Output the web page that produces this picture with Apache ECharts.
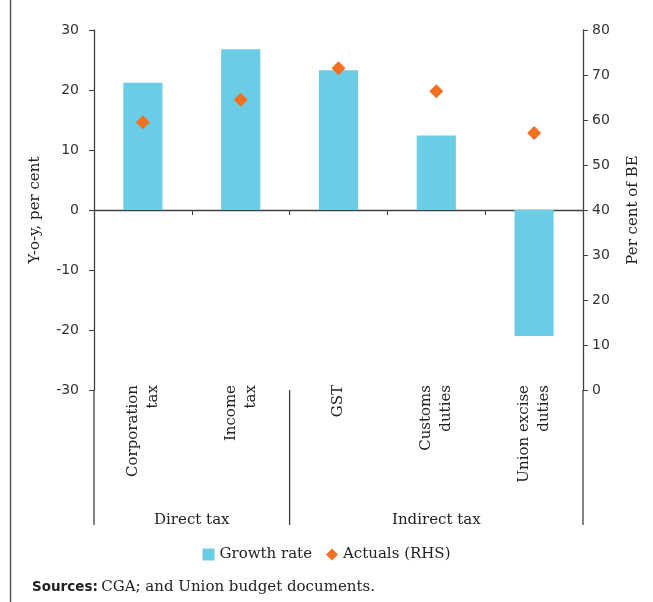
<!DOCTYPE html>
<html>
<head>
<meta charset="utf-8">
<script src="https://cdn.jsdelivr.net/npm/echarts@6/dist/echarts.min.js"></script>
<style>
  html, body { margin: 0; padding: 0; background: #fff; overflow: hidden; }
  #chart { width: 653px; height: 602px; }
</style>
</head>
<body>
<div id="chart"></div>
<script>
// data
const categories = ['Corporation\ntax', 'Income\ntax', 'GST', 'Customs\nduties', 'Union excise\nduties'];
const growthRate = [21.2, 26.8, 23.3, 12.4, -21.0];
const actualsRHS = [59.5, 64.5, 71.5, 66.4, 57.1];
const groups = ['Direct tax', 'Indirect tax'];
const groupSpans = [[0, 1], [2, 4]];   // category index ranges

const serif = '"DejaVu Serif", "Liberation Serif", serif';
const sans = '"DejaVu Sans", Verdana, sans-serif';
const axisColor = '#404040';

let chart = echarts.init(document.getElementById('chart'));

let option = {
  animation: false,
  grid: { left: 94, right: 70, top: 30, bottom: 212, containLabel: false, outerBoundsMode: 'none' },
  legend: {
    top: 542,
    left: 'center',
    itemWidth: 12,
    itemHeight: 12,
    itemGap: 14,
    textStyle: { fontFamily: serif, fontSize: 15, color: '#222' },
    data: [
      { name: 'Growth rate', icon: 'rect' },
      { name: 'Actuals (RHS)', icon: 'diamond' }
    ]
  },
  xAxis: [
    {
      type: 'category',
      data: categories,
      axisLine: { onZero: true, lineStyle: { color: axisColor, width: 1.3 } },
      axisTick: { show: true, inside: false, length: 5, lineStyle: { color: axisColor } },
      axisLabel: { show: false },
      splitLine: { show: false }
    },
    {
      type: 'category',
      data: categories,
      position: 'bottom',
      axisLine: { show: false, onZero: false },
      axisTick: { show: false },
      axisLabel: {
        rotate: 90,
        margin: -5,
        fontFamily: serif,
        fontSize: 15,
        lineHeight: 20,
        color: '#222'
      }
    }
  ],
  yAxis: [
    {
      type: 'value',
      min: -30,
      max: 30,
      interval: 10,
      name: 'Y-o-y, per cent',
      nameLocation: 'middle',
      nameGap: 51,
      nameTextStyle: { fontFamily: serif, fontSize: 15, color: '#222' },
      axisLine: { show: true, lineStyle: { color: axisColor, width: 1.3 } },
      axisTick: { show: true, length: 5, lineStyle: { color: axisColor } },
      axisLabel: { fontFamily: sans, fontSize: 14, color: '#333', margin: 15 },
      splitLine: { show: false }
    },
    {
      type: 'value',
      min: 0,
      max: 80,
      interval: 10,
      name: 'Per cent of BE',
      nameLocation: 'middle',
      nameGap: 43,
      nameRotate: 90,
      nameTextStyle: { fontFamily: serif, fontSize: 15, color: '#222' },
      axisLine: { show: true, lineStyle: { color: axisColor, width: 1.3 } },
      axisTick: { show: true, length: 5, lineStyle: { color: axisColor } },
      axisLabel: { fontFamily: sans, fontSize: 14, color: '#333', margin: 9 },
      splitLine: { show: false }
    }
  ],
  series: [
    {
      name: 'Growth rate',
      type: 'bar',
      data: growthRate,
      barWidth: '40%',
      itemStyle: { color: '#6ACCE5' }
    },
    {
      name: 'Actuals (RHS)',
      type: 'scatter',
      yAxisIndex: 1,
      data: actualsRHS,
      symbol: 'diamond',
      symbolSize: [14, 14],
      itemStyle: { color: '#F37021', opacity: 1 }
    }
  ]
};

chart.setOption(option);

// group labels and extension lines under the category labels, placed via the axis scale
function extras() {
  const yBottom = chart.convertToPixel({ yAxisIndex: 0 }, -30);
  const yEnd = yBottom + 135;
  const xStart = chart.convertToPixel({ xAxisIndex: 0 }, 0);
  const step = chart.convertToPixel({ xAxisIndex: 0 }, 1) - xStart;
  const edge = i => xStart - step / 2 + i * step;
  let elems = [];
  // left and right axis extensions + separator between groups
  [0, 2, 5].forEach(i => {
    elems.push({
      type: 'line',
      shape: { x1: edge(i), y1: yBottom, x2: edge(i), y2: yEnd },
      style: { stroke: axisColor, lineWidth: 1.3 }
    });
  });
  groups.forEach((g, k) => {
    const cx = (edge(groupSpans[k][0]) + edge(groupSpans[k][1] + 1)) / 2;
    elems.push({
      type: 'text',
      x: cx,
      y: yEnd - 5,
      style: {
        text: g, fontFamily: serif, fontSize: 15, fill: '#222',
        align: 'center', verticalAlign: 'middle'
      }
    });
  });
  // frame line on the left edge
  elems.push({
    type: 'line',
    shape: { x1: 10.5, y1: 0, x2: 10.5, y2: 602 },
    style: { stroke: '#555', lineWidth: 1.5 }
  });
  // sources note
  elems.push({
    type: 'text',
    x: 32,
    y: 587,
    style: {
      text: '{b|Sources:} {n|CGA; and Union budget documents.}',
      verticalAlign: 'middle',
      rich: {
        b: { fontFamily: sans, fontWeight: 'bold', fontSize: 13.5, fill: '#222' },
        n: { fontFamily: serif, fontSize: 15, fill: '#222' }
      }
    }
  });
  chart.setOption({ graphic: elems });
}
extras();
</script>
</body>
</html>
